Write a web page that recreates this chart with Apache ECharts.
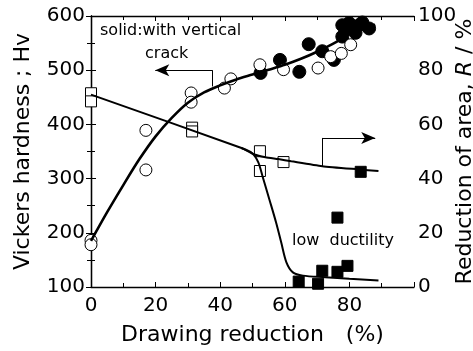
<!DOCTYPE html>
<html>
<head>
<meta charset="utf-8">
<script src="https://cdn.jsdelivr.net/npm/echarts@6/dist/echarts.min.js"></script>
<style>
html,body{margin:0;padding:0;background:#fff;}
#chart{width:473px;height:351px;}
</style>
</head>
<body>
<div id="chart"></div>
<script>
// ---- data (x = drawing reduction %, y = value) ----
const xTickValues = [0, 20, 40, 60, 80];
const hvTickValues = [100, 200, 300, 400, 500, 600];
const raTickValues = [0, 20, 40, 60, 80, 100];

// Vickers hardness, open circles (no crack)
const hvOpen = [[0,186],[0,178],[17,389],[17,316],[31,458],[31,441],[41.3,467],[43.3,484],
  [52.3,510],[59.6,501],[70.3,504],[74.2,525],[77.5,531],[80.4,547]];
// Vickers hardness, solid circles (with vertical crack)
const hvSolid = [[52.5,495],[58.5,519],[64.5,497],[67.4,548],[71.6,535],[75.2,519],
  [77.8,562],[77.8,583],[79.9,587],[81.9,569],[83,583],[86.1,577],[80,578],[84,588]];
// hardness trend curve
const hvCurve = [[0,185],[5,238],[10,288],[15,336],[20,378],[25,412],[30,440],[35,459],
  [40,472],[45,483],[50,492],[55,501],[60,510],[65,521],[70,534],[75,549],[80,566],[85,579],[88,584]];

// Reduction of area, open squares
const raOpen = [[0,71.5],[0,68.5],[31.3,58.8],[31.3,57.4],[52.3,50.1],[52.3,42.8],[59.6,46.1]];
// Reduction of area, solid squares (with vertical crack)
const raSolid = [[83.5,42.5],[76.3,25.6],[64.3,2],[70.3,1.2],[71.6,6],[76.3,5.6],[79.4,7.8]];
// R trend curves
const raUpper = [[0,71],[46.6,51.3],[50.6,48.9],[54,47.9],
  [58,47.2],[62,46.4],[71.6,44.6],[82.8,43.4],[89,42.8]];
const raLower = [[46.6,51.3],[50,49.3],[51.8,46],[53.1,40.9],[55.2,32.4],[57.3,23.8],
  [58.9,16.4],[60.5,9.1],[62.5,5.4],[65.6,4.2],[72.5,3.6],[80,3],[89,2.4]];

// annotation arrows (data coords)
const crackArrow = [[37.6,470],[37.6,500],[19.9,500]];
const raArrow = [[71.6,44.6],[71.6,55],[88,55]];

const FONT = 'DejaVu Sans';
const chart = echarts.init(document.getElementById('chart'), null, {renderer:'canvas'});

const axisLine = {show:true, lineStyle:{color:'#000', width:1.3}};
const tick = {show:true, inside:true, length:5, lineStyle:{color:'#000', width:1}};
const minor = {show:true, splitNumber:2, length:4, lineStyle:{color:'#000', width:1}};

function arrowMark(pts){
  return {
    silent:true, animation:false,
    symbol:['none','arrow'], symbolSize:[9,14],
    label:{show:false},
    lineStyle:{color:'#000', width:1, type:'solid'},
    emphasis:{disabled:true},
    data:[
      [{coord:pts[0], symbol:'none'},{coord:pts[1], symbol:'none'}],
      [{coord:pts[1], symbol:'none'},{coord:pts[2], symbol:'arrow'}]
    ]
  };
}

const option = {
  animation:false,
  backgroundColor:'#fff',
  grid:{left:91, right:59, top:16, bottom:64, containLabel:false, outerBoundsMode:'none'},
  xAxis:[{
    type:'value', position:'bottom', min:0, max:100, interval:20,
    axisLine, axisTick:tick, minorTick:minor, splitLine:{show:false},
    axisLabel:{color:'#000', fontSize:20, fontFamily:FONT, margin:9,
      formatter:v => xTickValues.includes(v) ? String(v) : ''},
    name:'Drawing reduction\u3000(%)', nameLocation:'middle', nameGap:37, nameMoveOverlap:false,
    nameTextStyle:{color:'#000', fontSize:22, fontFamily:FONT}
  },{
    type:'value', position:'top', min:0, max:100, interval:20,
    axisLine, axisTick:tick, minorTick:minor, splitLine:{show:false},
    axisLabel:{show:false}
  }],
  yAxis:[{
    type:'value', position:'left', min:100, max:600, interval:100,
    axisLine, axisTick:tick, minorTick:minor, splitLine:{show:false},
    axisLabel:{color:'#000', fontSize:20, fontFamily:FONT, margin:6,
      formatter:v => hvTickValues.includes(v) ? String(v) : ''},
    name:'Vickers hardness ; Hv', nameLocation:'middle', nameGap:57, nameRotate:90, nameMoveOverlap:false,
    nameTextStyle:{color:'#000', fontSize:22, fontFamily:FONT}
  },{
    type:'value', position:'right', min:0, max:100, interval:20,
    axisLine, axisTick:tick, minorTick:minor, splitLine:{show:false},
    axisLabel:{color:'#000', fontSize:20, fontFamily:FONT, margin:4,
      formatter:v => raTickValues.includes(v) ? String(v) : ''},
    name:'Reduction of area, {i|R} / %', nameLocation:'middle', nameGap:40, nameRotate:90, nameMoveOverlap:false,
    nameTextStyle:{color:'#000', fontSize:22, fontFamily:FONT,
      rich:{i:{fontStyle:'italic', fontSize:22, fontFamily:FONT, color:'#000'}}}
  }],
  graphic:[
    {type:'text', left:100, top:23, style:{text:'solid:with vertical', fontSize:16, fontFamily:FONT, fill:'#000'}},
    {type:'text', left:145, top:46, style:{text:'crack', fontSize:16, fontFamily:FONT, fill:'#000'}},
    {type:'text', left:292, top:233, style:{text:'low  ductility', fontSize:16, fontFamily:FONT, fill:'#000'}}
  ],
  series:[
    {type:'line', xAxisIndex:0, yAxisIndex:0, data:hvCurve, symbol:'none', smooth:0.3,
      lineStyle:{color:'#000', width:2.6}, silent:true, markLine:arrowMark(crackArrow)},
    {type:'line', xAxisIndex:0, yAxisIndex:1, data:raUpper, symbol:'none', smooth:0.2,
      lineStyle:{color:'#000', width:2}, silent:true, markLine:arrowMark(raArrow)},
    {type:'line', xAxisIndex:0, yAxisIndex:1, data:raLower, symbol:'none', smooth:0.3,
      lineStyle:{color:'#000', width:2}, silent:true},
    {type:'scatter', xAxisIndex:0, yAxisIndex:1, data:raOpen, symbol:'rect', symbolSize:11,
      itemStyle:{color:'#fff', borderColor:'#000', borderWidth:1, opacity:1}},
    {type:'scatter', xAxisIndex:0, yAxisIndex:1, data:raSolid, symbol:'rect', symbolSize:11,
      itemStyle:{color:'#000', borderColor:'#000', borderWidth:1, opacity:1}},
    {type:'scatter', xAxisIndex:0, yAxisIndex:0, data:hvSolid, symbol:'circle', symbolSize:13,
      itemStyle:{color:'#000', borderColor:'#000', borderWidth:1, opacity:1}},
    {type:'scatter', xAxisIndex:0, yAxisIndex:0, data:hvOpen, symbol:'circle', symbolSize:12,
      itemStyle:{color:'#fff', borderColor:'#000', borderWidth:1, opacity:1}}
  ]
};
chart.setOption(option);
</script>
</body>
</html>
